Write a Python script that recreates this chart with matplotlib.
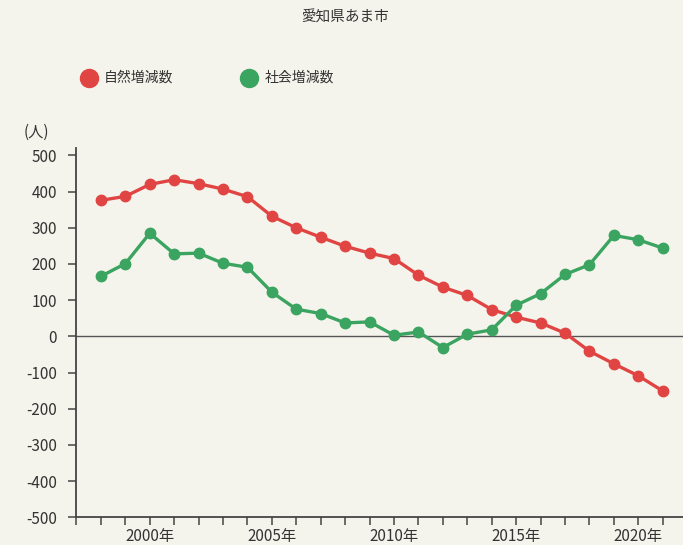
import numpy as np
import matplotlib.pyplot as plt

plt.rcParams['font.family'] = ['Noto Sans CJK JP', 'DejaVu Sans']

years = list(range(1998, 2022))
natural = [376, 387, 420, 433, 422, 407, 386, 332, 300, 274, 249, 230,
           215, 169, 136, 113, 74, 53, 37, 9, -41, -76, -109, -151]
social = [166, 201, 285, 228, 230, 202, 191, 122, 75, 63, 37, 40,
          3, 12, -31, 6, 18, 86, 118, 171, 198, 279, 267, 244]
label_years = [2000, 2005, 2010, 2015, 2020]
yticks = list(range(-500, 501, 100))

red = '#e04543'
green = '#3aa460'
bg = '#f5f4ec'
txt = '#333333'

fig = plt.figure(figsize=(6.83, 5.45), dpi=100, facecolor=bg)
ax = fig.add_axes([0.112, 0.051, 0.888, 0.677], facecolor=bg)

ax.plot(years, natural, color=red, lw=2.4, marker='o', ms=7.5, zorder=3)
ax.plot(years, social, color=green, lw=2.4, marker='o', ms=7.5, zorder=3)
ax.axhline(0, color='#555555', lw=1.0, zorder=2)

ax.set_xlim(1997, 2021.83)
ax.set_ylim(-500, 520)
ax.set_yticks(yticks)
ax.set_yticklabels([str(v) for v in yticks], fontsize=11, color=txt)
ax.set_xticks(list(range(1997, 2022)))
ax.set_xticklabels([f'{y}年' if y in label_years else '' for y in range(1997, 2022)],
                   fontsize=11, color=txt)
ax.tick_params(axis='y', length=6, width=1.1, color='#444444', pad=8)
ax.tick_params(axis='x', length=6, width=1.1, color='#444444', pad=2)

for s in ['top', 'right']:
    ax.spines[s].set_visible(False)
for s in ['left', 'bottom']:
    ax.spines[s].set_color('#444444')
    ax.spines[s].set_linewidth(1.3)

fig.text(0.505, 0.967, '愛知県あま市', ha='center', va='center', fontsize=10.5, color=txt)
fig.text(0.053, 0.757, '(人)', ha='center', va='center', fontsize=11, color=txt)

# legend
fig.lines.append(plt.Line2D([0.13], [0.857], transform=fig.transFigure, marker='o',
                            ms=13, color=red, ls='none'))
fig.text(0.152, 0.857, '自然増減数', ha='left', va='center', fontsize=10, color=txt)
fig.lines.append(plt.Line2D([0.365], [0.857], transform=fig.transFigure, marker='o',
                            ms=13, color=green, ls='none'))
fig.text(0.387, 0.857, '社会増減数', ha='left', va='center', fontsize=10, color=txt)

fig.savefig('out.png', dpi=100, facecolor=bg)
